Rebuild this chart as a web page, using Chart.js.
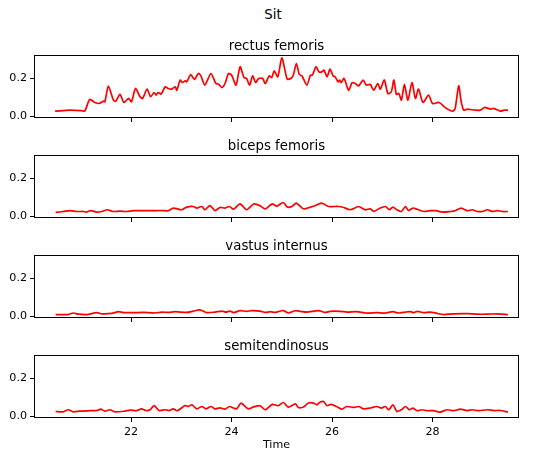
<!DOCTYPE html>
<html>
<head>
<meta charset="utf-8">
<script src="https://cdn.jsdelivr.net/npm/chart.js@4.4.0/dist/chart.umd.min.js"></script>
<style>
  body { margin: 0; background: #fff; }
  #wrap { position: relative; width: 537px; height: 458px; }
  canvas { position: absolute; left: 0; }
  #sup { position: absolute; left: 223px; width: 100px; top: 7px; text-align: center;
         font: 13.3px 'DejaVu Sans'; line-height: 16px; color: #000; }
</style>
</head>
<body>
<div id="wrap">
  <div id="sup">Sit</div>
  <canvas id="c0" width="537" height="130" style="top:0px"></canvas>
  <canvas id="c1" width="537" height="100" style="top:130px"></canvas>
  <canvas id="c2" width="537" height="100" style="top:230px"></canvas>
  <canvas id="c3" width="537" height="128" style="top:330px"></canvas>
</div>
<script>
// EMG envelopes while sitting down, [time, value]
var rectusFemoris = [[20.49,0.028],[20.78,0.033],[21.02,0.03],[21.08,0.028],[21.18,0.089],[21.28,0.073],[21.37,0.068],[21.45,0.08],[21.48,0.077],[21.55,0.158],[21.65,0.085],[21.7,0.08],[21.78,0.115],[21.86,0.073],[21.95,0.094],[22.01,0.077],[22.09,0.146],[22.18,0.103],[22.23,0.094],[22.32,0.143],[22.39,0.103],[22.46,0.125],[22.5,0.111],[22.54,0.125],[22.6,0.117],[22.68,0.155],[22.74,0.146],[22.81,0.143],[22.88,0.155],[22.91,0.137],[22.98,0.19],[23.02,0.177],[23.08,0.186],[23.11,0.181],[23.19,0.219],[23.26,0.193],[23.34,0.224],[23.39,0.212],[23.47,0.164],[23.59,0.224],[23.69,0.172],[23.74,0.169],[23.81,0.151],[23.87,0.172],[23.94,0.224],[24.0,0.216],[24.09,0.164],[24.17,0.259],[24.25,0.203],[24.3,0.198],[24.36,0.164],[24.42,0.212],[24.48,0.177],[24.54,0.198],[24.62,0.198],[24.67,0.172],[24.75,0.212],[24.8,0.203],[24.85,0.238],[24.92,0.207],[25.0,0.306],[25.07,0.233],[25.11,0.195],[25.18,0.198],[25.23,0.216],[25.29,0.276],[25.35,0.219],[25.4,0.212],[25.5,0.164],[25.57,0.216],[25.61,0.216],[25.68,0.259],[25.74,0.233],[25.8,0.233],[25.84,0.242],[25.9,0.207],[25.96,0.247],[26.02,0.212],[26.06,0.207],[26.12,0.181],[26.15,0.19],[26.18,0.177],[26.24,0.198],[26.33,0.137],[26.4,0.177],[26.46,0.172],[26.53,0.16],[26.62,0.19],[26.68,0.164],[26.76,0.167],[26.83,0.137],[26.91,0.172],[26.96,0.143],[27.04,0.19],[27.11,0.12],[27.18,0.129],[27.23,0.19],[27.28,0.115],[27.33,0.12],[27.38,0.085],[27.44,0.167],[27.51,0.085],[27.59,0.177],[27.66,0.094],[27.72,0.143],[27.81,0.073],[27.92,0.111],[28.0,0.068],[28.13,0.073],[28.26,0.045],[28.4,0.028],[28.45,0.042],[28.52,0.16],[28.57,0.077],[28.62,0.033],[28.69,0.038],[28.85,0.033],[28.95,0.033],[29.04,0.047],[29.15,0.038],[29.22,0.042],[29.35,0.028],[29.42,0.033],[29.5,0.033]];

var bicepsFemoris = [[20.5,0.021],[20.65,0.026],[20.78,0.031],[20.92,0.026],[21.05,0.026],[21.12,0.023],[21.2,0.031],[21.32,0.023],[21.42,0.026],[21.53,0.035],[21.64,0.026],[21.78,0.028],[21.91,0.026],[22.05,0.03],[22.18,0.03],[22.28,0.031],[22.38,0.03],[22.51,0.031],[22.64,0.031],[22.74,0.03],[22.84,0.044],[23.01,0.035],[23.11,0.049],[23.24,0.052],[23.31,0.044],[23.41,0.052],[23.47,0.035],[23.57,0.057],[23.67,0.031],[23.77,0.047],[23.87,0.044],[23.96,0.052],[24.04,0.038],[24.17,0.066],[24.3,0.035],[24.44,0.065],[24.57,0.056],[24.67,0.04],[24.81,0.066],[24.9,0.054],[25.03,0.073],[25.11,0.049],[25.2,0.052],[25.29,0.07],[25.43,0.04],[25.57,0.049],[25.67,0.057],[25.78,0.07],[25.83,0.066],[25.93,0.052],[26.03,0.052],[26.13,0.052],[26.23,0.047],[26.36,0.035],[26.53,0.052],[26.66,0.035],[26.76,0.04],[26.83,0.026],[26.93,0.04],[27.06,0.052],[27.14,0.035],[27.21,0.049],[27.29,0.035],[27.38,0.026],[27.46,0.052],[27.52,0.031],[27.61,0.044],[27.69,0.038],[27.82,0.026],[27.95,0.03],[28.07,0.03],[28.19,0.023],[28.35,0.026],[28.45,0.03],[28.57,0.044],[28.69,0.03],[28.79,0.035],[28.89,0.026],[28.99,0.026],[29.09,0.035],[29.19,0.026],[29.29,0.031],[29.39,0.026],[29.5,0.026]];

var vastusInternus = [[20.5,0.01],[20.75,0.01],[20.85,0.018],[20.95,0.012],[21.12,0.01],[21.32,0.02],[21.42,0.014],[21.62,0.016],[21.75,0.025],[21.85,0.02],[22.05,0.02],[22.25,0.021],[22.48,0.018],[22.61,0.023],[22.74,0.021],[22.88,0.025],[23.11,0.021],[23.24,0.028],[23.37,0.034],[23.51,0.02],[23.67,0.023],[23.81,0.028],[23.89,0.023],[23.97,0.028],[24.04,0.02],[24.17,0.03],[24.3,0.027],[24.4,0.03],[24.57,0.028],[24.67,0.021],[24.77,0.025],[24.87,0.021],[25.03,0.031],[25.13,0.018],[25.27,0.03],[25.37,0.027],[25.5,0.023],[25.73,0.031],[25.86,0.021],[25.96,0.027],[26.16,0.027],[26.3,0.023],[26.49,0.025],[26.69,0.018],[26.89,0.02],[27.06,0.018],[27.21,0.025],[27.32,0.018],[27.46,0.023],[27.56,0.025],[27.62,0.02],[27.7,0.027],[27.82,0.02],[27.95,0.023],[28.09,0.016],[28.22,0.01],[28.42,0.014],[28.69,0.015],[28.89,0.012],[29.09,0.012],[29.29,0.014],[29.5,0.01]];

var semitendinosus = [[20.5,0.026],[20.65,0.024],[20.75,0.035],[20.85,0.024],[20.98,0.028],[21.18,0.03],[21.32,0.031],[21.4,0.038],[21.48,0.028],[21.58,0.035],[21.68,0.024],[21.88,0.028],[21.98,0.033],[22.11,0.03],[22.21,0.04],[22.3,0.031],[22.38,0.035],[22.46,0.057],[22.56,0.031],[22.68,0.035],[22.76,0.031],[22.84,0.04],[22.92,0.03],[23.08,0.057],[23.14,0.052],[23.21,0.061],[23.31,0.04],[23.41,0.052],[23.49,0.04],[23.59,0.052],[23.67,0.04],[23.77,0.045],[23.87,0.038],[23.96,0.052],[24.1,0.04],[24.19,0.07],[24.33,0.04],[24.44,0.05],[24.57,0.056],[24.67,0.035],[24.81,0.063],[24.93,0.056],[25.03,0.073],[25.13,0.049],[25.27,0.066],[25.33,0.047],[25.43,0.049],[25.53,0.07],[25.63,0.07],[25.7,0.061],[25.75,0.073],[25.83,0.078],[25.9,0.056],[25.98,0.063],[26.09,0.052],[26.19,0.038],[26.29,0.052],[26.43,0.047],[26.53,0.052],[26.63,0.04],[26.76,0.044],[26.89,0.052],[26.98,0.044],[27.06,0.052],[27.13,0.035],[27.21,0.061],[27.29,0.026],[27.38,0.035],[27.46,0.052],[27.54,0.035],[27.61,0.044],[27.69,0.03],[27.79,0.035],[27.89,0.03],[28.02,0.03],[28.15,0.023],[28.29,0.035],[28.42,0.03],[28.55,0.038],[28.69,0.031],[28.79,0.035],[28.92,0.03],[29.09,0.035],[29.22,0.031],[29.35,0.031],[29.5,0.023]];

var xTicks = [22, 24, 26, 28];
var yTicks = [0, 0.2];

var fontFamily = 'DejaVu Sans';

// matplotlib-style box round the plot area, title centred over the plot
var frame = {
  id: 'frame',
  afterLayout: function(chart) {
    if (chart.titleBlock) chart.titleBlock.left = chart.chartArea.left;
  },
  afterDatasetsDraw: function(chart) {
    var a = chart.chartArea, c = chart.ctx;
    c.save();
    c.strokeStyle = '#000';
    c.lineWidth = 1;
    c.strokeRect(Math.round(a.left) + 0.5, Math.round(a.top) + 0.5,
                 Math.round(a.right - a.left) - 1, Math.round(a.bottom - a.top) - 1);
    c.restore();
  }
};

function makeChart(id, pairs, title, opts) {
  var last = opts.last;
  return new Chart(document.getElementById(id), {
    type: 'line',
    data: {
      datasets: [{
        data: pairs.map(function(p) { return { x: p[0], y: p[1] }; }),
        borderColor: '#ff0000',
        borderWidth: 1.7,
        pointRadius: 0,
        tension: 0.25,
        fill: false
      }]
    },
    options: {
      responsive: false,
      animation: false,
      layout: { padding: { left: 0, right: 18, top: 0, bottom: 0 } },
      plugins: {
        legend: { display: false },
        tooltip: { enabled: false },
        title: {
          display: true,
          text: title,
          color: '#000',
          font: { family: fontFamily, size: 13.3, weight: 'normal' },
          padding: { top: opts.top, bottom: 0 }
        }
      },
      scales: {
        x: {
          type: 'linear',
          min: 20.07,
          max: 29.72,
          afterBuildTicks: function(s) { s.ticks = xTicks.map(function(v) { return { value: v }; }); },
          afterFit: function(s) { s.height = last ? 40 : 12; },
          border: { display: false },
          grid: { display: true, drawOnChartArea: false, drawTicks: true, tickLength: 4, color: '#000' },
          ticks: {
            display: last,
            color: '#000',
            padding: 3,
            maxRotation: 0,
            font: { family: fontFamily, size: 11.1 }
          },
          title: {
            display: last,
            text: 'Time',
            color: '#000',
            font: { family: fontFamily, size: 11.1 },
            padding: { top: 0, bottom: 6 }
          }
        },
        y: {
          min: -0.008,
          max: 0.321,
          afterBuildTicks: function(s) { s.ticks = yTicks.map(function(v) { return { value: v }; }); },
          afterFit: function(s) { s.width = 34; },
          border: { display: false },
          grid: { display: true, drawOnChartArea: false, drawTicks: true, tickLength: 4, color: '#000' },
          ticks: {
            color: '#000',
            padding: 3,
            font: { family: fontFamily, size: 11.1 },
            callback: function(v) { return v.toFixed(1); }
          }
        }
      }
    },
    plugins: [frame]
  });
}

makeChart('c0', rectusFemoris, 'rectus femoris', { top: 39, last: false });
makeChart('c1', bicepsFemoris, 'biceps femoris', { top: 9, last: false });
makeChart('c2', vastusInternus, 'vastus internus', { top: 9, last: false });
makeChart('c3', semitendinosus, 'semitendinosus', { top: 9, last: true });
</script>
</body>
</html>
